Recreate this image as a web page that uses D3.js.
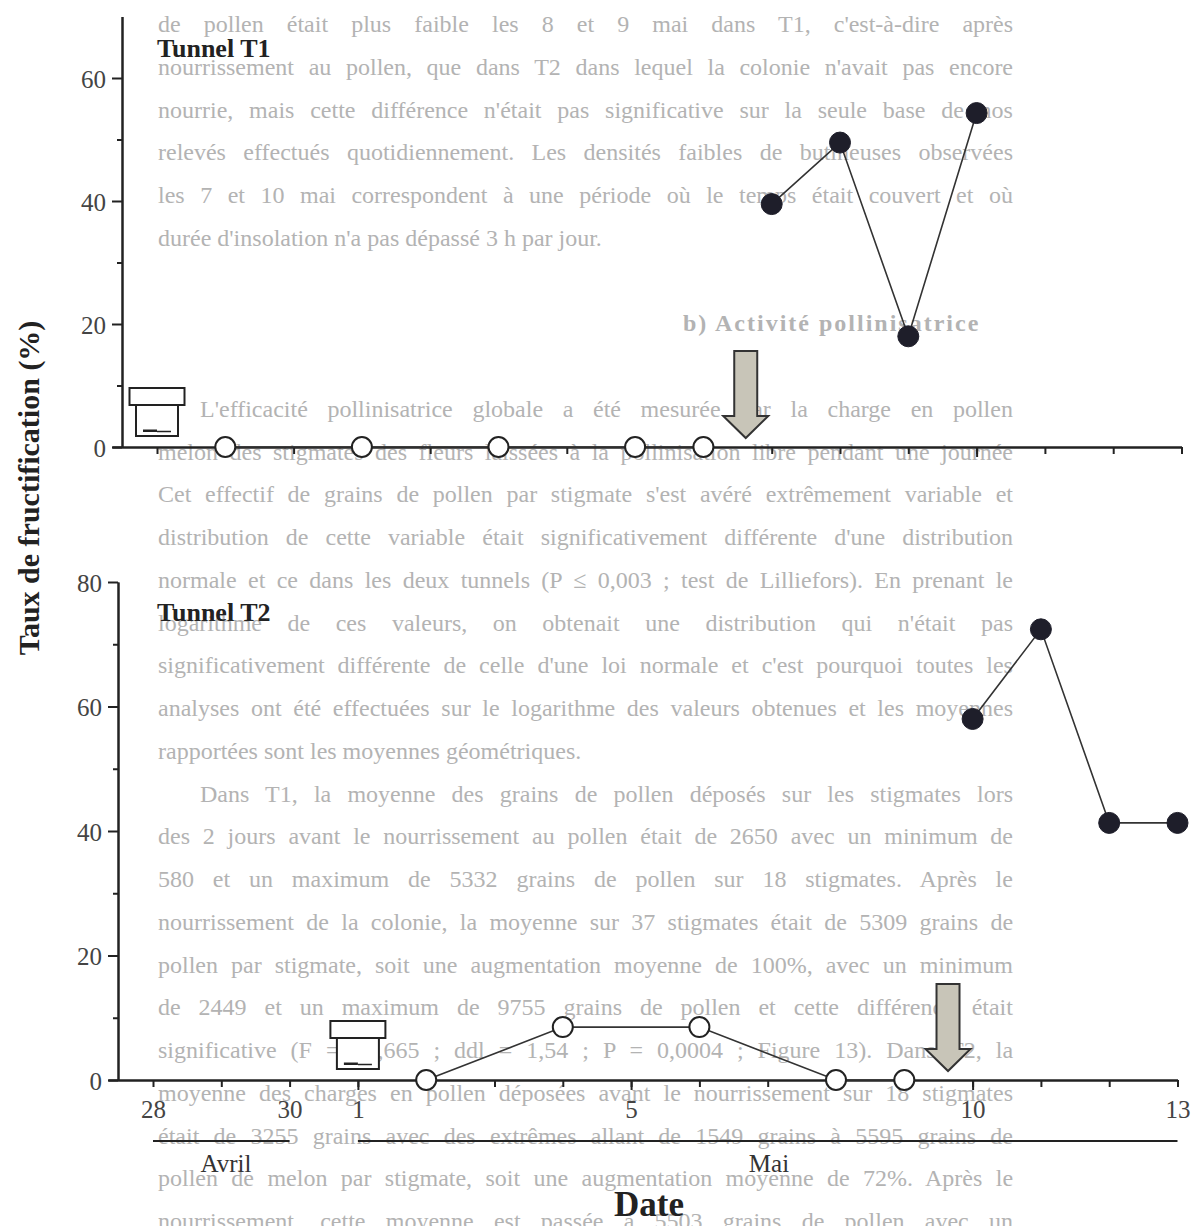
<!DOCTYPE html>
<html>
<head>
<meta charset="utf-8">
<script src="https://cdn.jsdelivr.net/npm/d3@7"></script>
<style>
  body { margin: 0; background: #fff; }
  svg { display: block; font-family: "Liberation Serif", "DejaVu Serif", serif; }
</style>
</head>
<body>
<script>
// days are counted from 1 May (28 April = -3)
var dayTicks = d3.range(-3, 13);
var majorDays = [0, 4, 9];
var labelDays = [-3, -1, 0, 4, 9, 12];
var labelText = ["28", "30", "1", "5", "10", "13"];

// Tunnel T1
var t1OpenDays = [-2, 0, 2, 4, 5];
var t1OpenVals = [0, 0, 0, 0, 0];
var t1FullDays = [6, 7, 8, 9];
var t1FullVals = [39.5, 49.5, 18, 54.3];
var t1HiveDay = -3;
var t1ArrowDay = 5.62;

// Tunnel T2
var t2OpenDays = [1, 3, 5, 7, 8];
var t2OpenVals = [0, 8.5, 8.5, 0, 0];
var t2FullDays = [9, 10, 11, 12];
var t2FullVals = [58, 72.4, 41.3, 41.3];
var t2HiveDay = 0;
var t2ArrowDay = 8.64;

// page text showing through the scan
var pageText = [
  {row: 0, text: "de pollen était plus faible les 8 et 9 mai dans T1, c'est-à-dire après"},
  {row: 1, text: "nourrissement au pollen, que dans T2 dans lequel la colonie n'avait pas encore"},
  {row: 2, text: "nourrie, mais cette différence n'était pas significative sur la seule base de nos"},
  {row: 3, text: "relevés effectués quotidiennement. Les densités faibles de butineuses observées"},
  {row: 4, text: "les 7 et 10 mai correspondent à une période où le temps était couvert et où"},
  {row: 5, text: "durée d'insolation n'a pas dépassé 3 h par jour.", last: true},
  {row: 7, text: "b) Activité pollinisatrice", head: true},
  {row: 9, text: "L'efficacité pollinisatrice globale a été mesurée par la charge en pollen", indent: true},
  {row: 10, text: "melon des stigmates des fleurs laissées à la pollinisation libre pendant une journée"},
  {row: 11, text: "Cet effectif de grains de pollen par stigmate s'est avéré extrêmement variable et"},
  {row: 12, text: "distribution de cette variable était significativement différente d'une distribution"},
  {row: 13, text: "normale et ce dans les deux tunnels (P ≤ 0,003 ; test de Lilliefors). En prenant le"},
  {row: 14, text: "logarithme de ces valeurs, on obtenait une distribution qui n'était pas"},
  {row: 15, text: "significativement différente de celle d'une loi normale et c'est pourquoi toutes les"},
  {row: 16, text: "analyses ont été effectuées sur le logarithme des valeurs obtenues et les moyennes"},
  {row: 17, text: "rapportées sont les moyennes géométriques.", last: true},
  {row: 18, text: "Dans T1, la moyenne des grains de pollen déposés sur les stigmates lors", indent: true},
  {row: 19, text: "des 2 jours avant le nourrissement au pollen était de 2650 avec un minimum de"},
  {row: 20, text: "580 et un maximum de 5332 grains de pollen sur 18 stigmates. Après le"},
  {row: 21, text: "nourrissement de la colonie, la moyenne sur 37 stigmates était de 5309 grains de"},
  {row: 22, text: "pollen par stigmate, soit une augmentation moyenne de 100%, avec un minimum"},
  {row: 23, text: "de 2449 et un maximum de 9755 grains de pollen et cette différence était"},
  {row: 24, text: "significative (F = 36,665 ; ddl = 1,54 ; P = 0,0004 ; Figure 13). Dans T2, la"},
  {row: 25, text: "moyenne des charges en pollen déposées avant le nourrissement sur 18 stigmates"},
  {row: 26, text: "était de 3255 grains avec des extrêmes allant de 1549 grains à 5595 grains de"},
  {row: 27, text: "pollen de melon par stigmate, soit une augmentation moyenne de 72%. Après le"},
  {row: 28, text: "nourrissement, cette moyenne est passée à 5503 grains de pollen avec un"}
];

var svg = d3.select("body").append("svg")
    .attr("width", 1201)
    .attr("height", 1226);

// faint background text, justified by word spacing
var bg = svg.append("g")
    .attr("fill", "#b3b3b3")
    .attr("font-size", 24);

bg.selectAll("text")
    .data(pageText)
  .enter().append("text")
    .attr("x", function(d) { return d.head ? 683 : (d.indent ? 200 : 158); })
    .attr("y", function(d) { return 32 + 42.75 * d.row; })
    .attr("font-weight", function(d) { return d.head ? "bold" : null; })
    .attr("letter-spacing", function(d) { return d.head ? 2 : null; })
    .text(function(d) { return d.text; })
    .each(function(d) {
      if (d.last || d.head) return;
      var x0 = d.indent ? 200 : 158;
      var target = 1013 - x0;
      var natural = this.getComputedTextLength();
      var gaps = d.text.split(" ").length - 1;
      d3.select(this).attr("word-spacing", ((target - natural) / gaps).toFixed(2));
    });

function Panel(cfg) {
  var g = svg.append("g");

  var x = d3.scaleLinear()
      .domain([-3, 12])
      .range([cfg.xStart, cfg.xEnd]);

  var y = d3.scaleLinear()
      .domain([0, cfg.yMax])
      .range([cfg.y0, cfg.yTop]);

  // x scale stretched to start at the y axis
  var xa = x.copy().domain([x.invert(cfg.axisX - 10), 12]).range([cfg.axisX - 10, cfg.xEnd]);

  function clean(sel) {
    sel.attr("font-family", null).attr("font-size", null).attr("color", "#222");
    sel.selectAll("path, line").attr("stroke-width", 2);
  }

  g.append("g")
      .attr("transform", "translate(0," + cfg.y0 + ")")
      .call(d3.axisBottom(xa).tickValues(dayTicks).tickSize(7).tickSizeOuter(0).tickFormat(""))
      .call(clean);

  g.append("g")
      .attr("transform", "translate(0," + cfg.y0 + ")")
      .call(d3.axisBottom(xa).tickValues(majorDays).tickSize(10).tickSizeOuter(0).tickFormat(""))
      .call(clean);

  g.append("g")
      .attr("transform", "translate(" + cfg.axisX + ",0)")
      .call(d3.axisLeft(y).tickValues(d3.range(10, cfg.yMax, 20)).tickSize(5).tickSizeOuter(0).tickFormat(""))
      .call(clean);

  var yAxis = g.append("g")
      .attr("transform", "translate(" + cfg.axisX + ",0)")
      .call(d3.axisLeft(y).tickValues(d3.range(0, cfg.yMax + 1, 20)).tickSize(10).tickPadding(6).tickSizeOuter(0))
      .call(clean);
  yAxis.selectAll("text")
      .attr("font-size", 25)
      .attr("fill", "#444")
      .attr("dy", "0.36em");

  if (cfg.labels) {
    var lab = g.append("g")
        .attr("transform", "translate(0," + cfg.y0 + ")")
        .call(d3.axisBottom(x).tickValues(labelDays).tickSize(0).tickPadding(20)
            .tickFormat(function(d) { return labelText[labelDays.indexOf(d)]; }))
        .call(clean);
    lab.select(".domain").remove();
    lab.selectAll("text").attr("font-size", 25).attr("fill", "#444");
  }

  // title
  g.append("text")
      .attr("x", 157)
      .attr("y", cfg.titleY)
      .attr("font-size", 26)
      .attr("font-weight", "bold")
      .attr("fill", "#222")
      .text(cfg.title);

  // hive
  var hx = x(cfg.hiveDay);
  var hive = g.append("g").attr("fill", "#fff").attr("stroke", "#222").attr("stroke-width", 2);
  hive.append("rect").attr("x", hx - 27.5).attr("y", cfg.y0 - 59).attr("width", 55).attr("height", 17);
  hive.append("rect").attr("x", hx - 21).attr("y", cfg.y0 - 42).attr("width", 42).attr("height", 31);
  hive.append("rect").attr("x", hx - 14).attr("y", cfg.y0 - 17.5).attr("width", 14).attr("height", 2.5)
      .attr("fill", "#222").attr("stroke", "none");
  hive.append("line").attr("x1", hx).attr("x2", hx + 14).attr("y1", cfg.y0 - 15.5).attr("y2", cfg.y0 - 15.5)
      .attr("stroke-width", 1.5);

  // arrow (feeding event)
  var ax = x(cfg.arrowDay), at = cfg.y0 - 9;
  var arrow = d3.path();
  arrow.moveTo(ax - 11.5, at - 87);
  arrow.lineTo(ax + 11.5, at - 87);
  arrow.lineTo(ax + 11.5, at - 22);
  arrow.lineTo(ax + 22.5, at - 22);
  arrow.lineTo(ax, at);
  arrow.lineTo(ax - 22.5, at - 22);
  arrow.lineTo(ax - 11.5, at - 22);
  arrow.closePath();
  g.append("path")
      .attr("d", arrow.toString())
      .attr("fill", "#c8c5b8")
      .attr("stroke", "#333")
      .attr("stroke-width", 2)
      .attr("stroke-linejoin", "miter");

  var line = d3.line()
      .x(function(d) { return x(d[0]); })
      .y(function(d) { return y(d[1]); });

  var open = d3.zip(cfg.openDays, cfg.openVals);
  var full = d3.zip(cfg.fullDays, cfg.fullVals);

  [open, full].forEach(function(pts) {
    g.append("path")
        .datum(pts)
        .attr("d", line)
        .attr("fill", "none")
        .attr("stroke", "#333")
        .attr("stroke-width", 1.6);
  });

  g.selectAll("circle.open")
      .data(open)
    .enter().append("circle")
      .attr("class", "open")
      .attr("cx", function(d) { return x(d[0]); })
      .attr("cy", function(d) { return y(d[1]); })
      .attr("r", 10)
      .attr("fill", "#fff")
      .attr("stroke", "#222")
      .attr("stroke-width", 2);

  g.selectAll("circle.full")
      .data(full)
    .enter().append("circle")
      .attr("class", "full")
      .attr("cx", function(d) { return x(d[0]); })
      .attr("cy", function(d) { return y(d[1]); })
      .attr("r", 10.5)
      .attr("fill", "#1e1e2a")
      .attr("stroke", "#1e1e2a")
      .attr("stroke-width", 1);

  return x;
}

Panel({
  axisX: 122, xStart: 157, xEnd: 1181.5,
  y0: 447, yTop: 16.5, yMax: 70,
  title: "Tunnel T1", titleY: 57,
  hiveDay: t1HiveDay, arrowDay: t1ArrowDay,
  openDays: t1OpenDays, openVals: t1OpenVals,
  fullDays: t1FullDays, fullVals: t1FullVals,
  labels: false
});

var xb = Panel({
  axisX: 118, xStart: 153, xEnd: 1177.5,
  y0: 1080, yTop: 582, yMax: 80,
  title: "Tunnel T2", titleY: 621,
  hiveDay: t2HiveDay, arrowDay: t2ArrowDay,
  openDays: t2OpenDays, openVals: t2OpenVals,
  fullDays: t2FullDays, fullVals: t2FullVals,
  labels: true
});

// month brackets
var months = [
  {name: "Avril", from: -3, to: -1},
  {name: "Mai", from: 0, to: 12}
];
var mg = svg.append("g");
mg.selectAll("line")
    .data(months)
  .enter().append("line")
    .attr("x1", function(d) { return xb(d.from); })
    .attr("x2", function(d) { return xb(d.to); })
    .attr("y1", 1141)
    .attr("y2", 1141)
    .attr("stroke", "#222")
    .attr("stroke-width", 2);
mg.selectAll("text")
    .data(months)
  .enter().append("text")
    .attr("x", function(d, i) { return i == 0 ? 226 : 769; })
    .attr("y", 1172)
    .attr("text-anchor", "middle")
    .attr("font-size", 25)
    .attr("fill", "#333")
    .text(function(d) { return d.name; });

svg.append("text")
    .attr("x", 649)
    .attr("y", 1216)
    .attr("text-anchor", "middle")
    .attr("font-size", 35)
    .attr("font-weight", "bold")
    .attr("fill", "#222")
    .text("Date");

svg.append("text")
    .attr("transform", "translate(39,488) rotate(-90)")
    .attr("text-anchor", "middle")
    .attr("font-size", 30)
    .attr("font-weight", "bold")
    .attr("fill", "#222")
    .text("Taux de fructification (%)");
</script>
</body>
</html>
